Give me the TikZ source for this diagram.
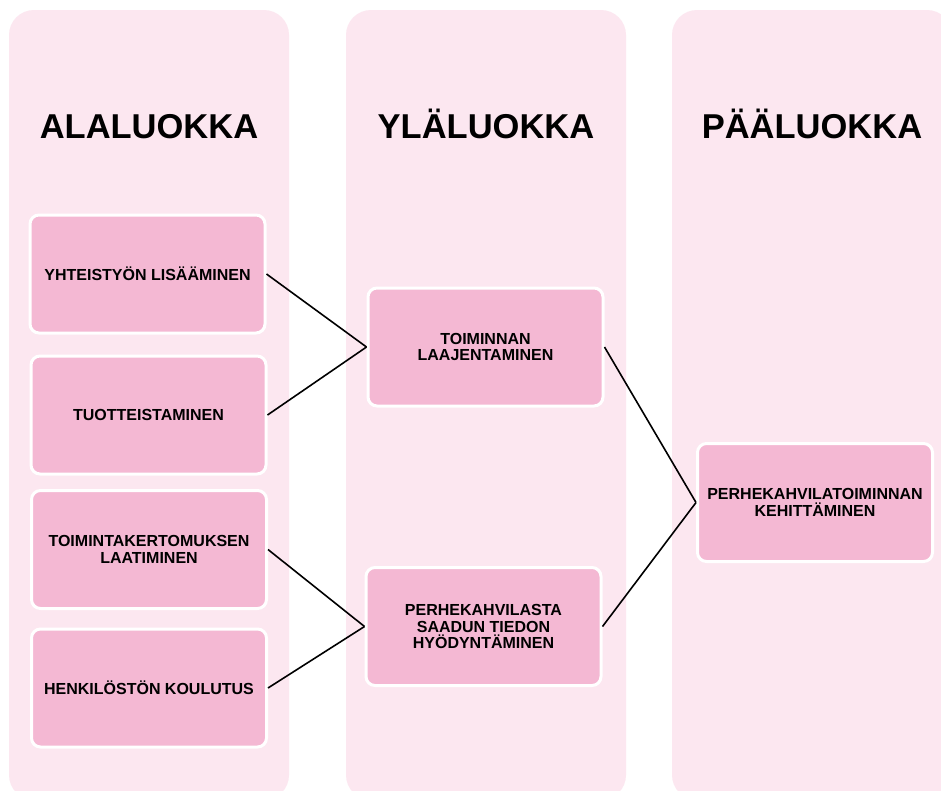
\documentclass[tikz,border=0pt]{standalone}
\usepackage{fontspec}
\setmainfont{Liberation Sans}
\definecolor{colpink}{RGB}{252,231,240}
\definecolor{boxpink}{RGB}{244,184,211}
\begin{document}
\begin{tikzpicture}[x=1pt,y=-1pt,
  column/.style={fill=colpink, draw=none, rounded corners=25pt},
  heading/.style={font=\fontsize{34.5}{40}\selectfont\bfseries, anchor=base, inner sep=0pt},
  catbox/.style={fill=boxpink, draw=white, line width=3pt, rounded corners=9pt,
    minimum width=235pt, minimum height=118pt, inner sep=2pt, align=center,
    font=\fontsize{16}{16.2}\selectfont\bfseries},
  link/.style={draw=black, line width=1.6pt}]
\useasboundingbox (0,0) rectangle (941,790);
\clip (0,0) rectangle (941,790);
\fill[white] (0,0) rectangle (941,790);
% columns
\path[column] (9,10) rectangle (289,800);
\path[column] (346,10) rectangle (626,800);
\path[column] (672,10) rectangle (952,800);
% headings
\node[heading] (h1) at (149,138) {ALALUOKKA};
\node[heading] (h2) at (486,138) {YLÄLUOKKA};
\node[heading] (h3) at (812,138) {PÄÄLUOKKA};
% boxes
\node[catbox] (b1) at (147.5,274) {YHTEISTYÖN LISÄÄMINEN};
\node[catbox] (b2) at (148.5,415) {TUOTTEISTAMINEN};
\node[catbox] (b3) at (149,549.5) {TOIMINTAKERTOMUKSEN\\LAATIMINEN};
\node[catbox] (b4) at (149,688) {HENKILÖSTÖN KOULUTUS};
\node[catbox] (m1) at (485.5,347) {TOIMINNAN\\LAAJENTAMINEN};
\node[catbox] (m2) at (483.5,626.5) {PERHEKAHVILASTA\\SAADUN TIEDON\\HYÖDYNTÄMINEN};
\node[catbox] (r) at (815,502.5) {PERHEKAHVILATOIMINNAN\\KEHITTÄMINEN};
% connectors
\draw[link] (b1.east) -- (m1.west);
\draw[link] (b2.east) -- (m1.west);
\draw[link] (b3.east) -- (m2.west);
\draw[link] (b4.east) -- (m2.west);
\draw[link] (m1.east) -- (r.west);
\draw[link] (m2.east) -- (r.west);
\end{tikzpicture}
\end{document}
